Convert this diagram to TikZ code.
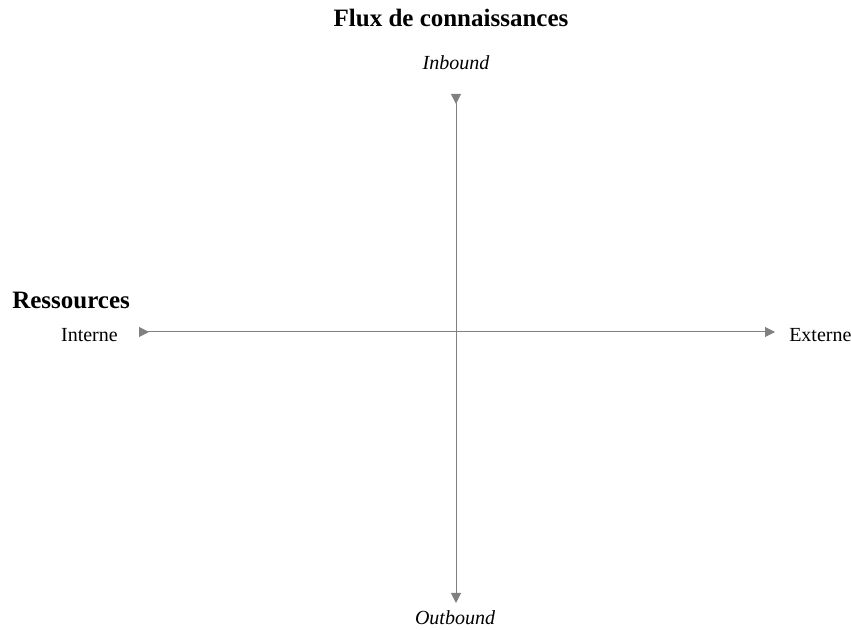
\documentclass[tikz,border=0pt]{standalone}
\usepackage{fontspec}
\setmainfont{Liberation Serif}
\usetikzlibrary{arrows.meta}
\definecolor{axisgray}{RGB}{128,128,128}
\tikzset{
  tipend/.tip={Triangle[length=7.5pt,width=7.5pt,fill=axisgray]},
  tipstart/.tip={Triangle[reversed,length=7.5pt,width=7.5pt,fill=axisgray]}
}
\begin{document}
\begin{tikzpicture}[x=0.75pt,y=-0.75pt,
  axis/.style={draw=axisgray,line width=0.75pt},
  titlefont/.style={font=\fontsize{18.75pt}{22pt}\selectfont\bfseries},
  labfont/.style={font=\fontsize{15pt}{18pt}\selectfont},
  lab/.style={inner sep=0pt,anchor=base}]
\useasboundingbox (0,0) rectangle (851,630);
\coordinate (inL) at (139,332);
\coordinate (exR) at (775,332);
\coordinate (top) at (456,94);
\coordinate (bot) at (456,603);
\draw[axis,tipstart-tipend] (inL) -- (exR);
\draw[axis,tipstart-tipend] (top) -- (bot);
\node[lab,titlefont] (title) at (451,27) {Flux de connaissances};
\node[lab,labfont] (inb) at (456,70) {\itshape Inbound};
\node[lab,labfont] (outb) at (455,625) {\itshape Outbound};
\node[lab,titlefont,anchor=base west] (res) at (12,309) {Ressources};
\node[lab,labfont,anchor=base east] (int) at (118,342) {Interne};
\node[lab,labfont,anchor=base west] (ext) at (789,342) {Externe};
\end{tikzpicture}
\end{document}
